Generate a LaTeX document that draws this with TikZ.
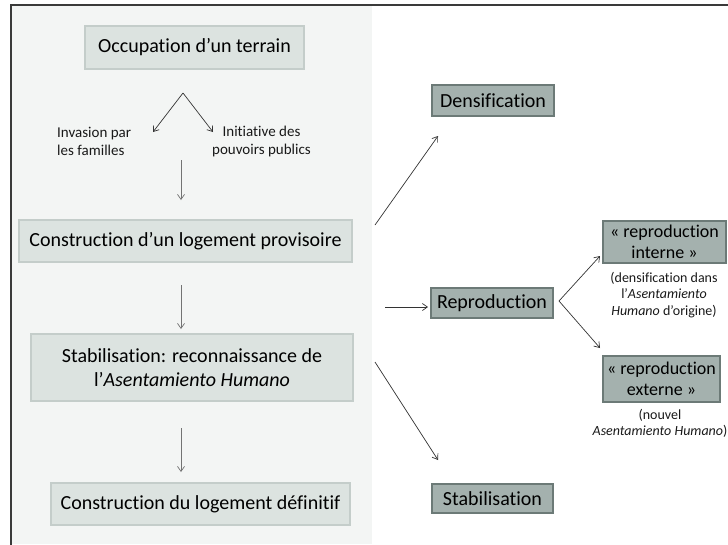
\documentclass[tikz,border=0pt]{standalone}
\usepackage{fontspec}
\setmainfont{Carlito}[Ligatures=NoCommon]
\usetikzlibrary{arrows.meta}
\definecolor{panel}{HTML}{F3F5F4}
\definecolor{lfill}{HTML}{DCE3E0}
\definecolor{ldraw}{HTML}{C4CDCA}
\definecolor{rfill}{HTML}{A4B1AE}
\definecolor{rdraw}{HTML}{6C7A77}
\definecolor{framec}{HTML}{3A3A3A}
\begin{document}
\begin{tikzpicture}[x=1pt,y=-1pt,
 lbox/.style={draw=ldraw, line width=1.5pt, fill=lfill, inner sep=0pt, align=center, font=\fontsize{20}{24}\selectfont},
 rbox/.style={draw=rdraw, line width=1.8pt, fill=rfill, inner sep=0pt, align=center, font=\fontsize{20}{24}\selectfont},
 rboxs/.style={rbox, font=\fontsize{18}{21.6}\selectfont},
 small/.style={inner sep=0pt, align=center, font=\fontsize{14}{16.5}\selectfont, text=black!90},
 lab/.style={inner sep=0pt, font=\fontsize{15}{18}\selectfont, text=black!90},
 arr/.style={-{Straight Barb[length=5pt,width=7pt]}, line width=0.7pt, draw=black!80},
 varr/.style={arr, draw=black!55}]
\useasboundingbox (0,0) rectangle (728,544);
\clip (0,0) rectangle (728,544);
\fill[panel] (12,6) rectangle (372,544);
\draw[framec, line width=2pt] (11,5) rectangle (760,580);

% left column
\node[lbox, minimum width=219pt, minimum height=43pt] (occ) at (194.5,47.5) {Occupation d’un terrain};
\node[lbox, minimum width=333pt, minimum height=42pt] (prov) at (185.5,241) {Construction d’un logement provisoire};
\node[lbox, minimum width=322pt, minimum height=67pt] (stab) at (192,367.5) {Stabilisation: reconnaissance de\\l’\textit{Asentamiento Humano}};
\node[lbox, minimum width=299pt, minimum height=42pt] (def) at (200.5,504) {Construction du logement définitif};

\node[lab, align=left, anchor=west] (inv) at (57,141) {Invasion par\\les familles};
\node[lab, align=center] (init) at (261.5,141) {Initiative des\\pouvoirs publics};

% right column
\node[rbox, minimum width=122pt, minimum height=31pt] (dens) at (493,100.5) {Densification};
\node[rbox, minimum width=122pt, minimum height=30pt] (repro) at (492,303) {Reproduction};
\node[rbox, minimum width=121pt, minimum height=29pt] (stabR) at (492.5,498.5) {Stabilisation};
\node[rboxs, minimum width=123pt, minimum height=42pt] (rint) at (664.5,242) {«~reproduction\\interne~»};
\node[rboxs, minimum width=117pt, minimum height=46pt] (rext) at (661.5,379) {«~reproduction\\externe~»};
\node[small] (dint) at (664,295) {(densification dans\\l’\textit{Asentamiento}\\\textit{Humano} d’origine)};
\node[small] (dext) at (660,423.5) {(nouvel\\\textit{Asentamiento Humano})};

% connectors
\coordinate (apex) at (183,93);
\coordinate (invE) at (153,132);
\coordinate (initW) at (213,132);
\draw[arr] (apex) -- (invE);
\draw[arr] (apex) -- (initW);

\coordinate (v1s) at (181,160); \coordinate (v1e) at (181,200);
\coordinate (v2s) at (181,285); \coordinate (v2e) at (181,329);
\coordinate (v3s) at (181,428); \coordinate (v3e) at (181,472);
\draw[varr] (v1s) -- (v1e);
\draw[varr] (v2s) -- (v2e);
\draw[varr] (v3s) -- (v3e);

\coordinate (d1s) at (375,225); \coordinate (d1e) at (438,136);
\coordinate (d2s) at (385,307); \coordinate (d2e) at (428,307);
\coordinate (d3s) at (375,362); \coordinate (d3e) at (438,460);
\draw[arr] (d1s) -- (d1e);
\draw[arr] (d2s) -- (d2e);
\draw[arr] (d3s) -- (d3e);

\coordinate (fork) at (559,301);
\coordinate (f1e) at (600,256);
\coordinate (f2e) at (600,348);
\draw[arr] (fork) -- (f1e);
\draw[arr] (fork) -- (f2e);
\end{tikzpicture}
\end{document}
